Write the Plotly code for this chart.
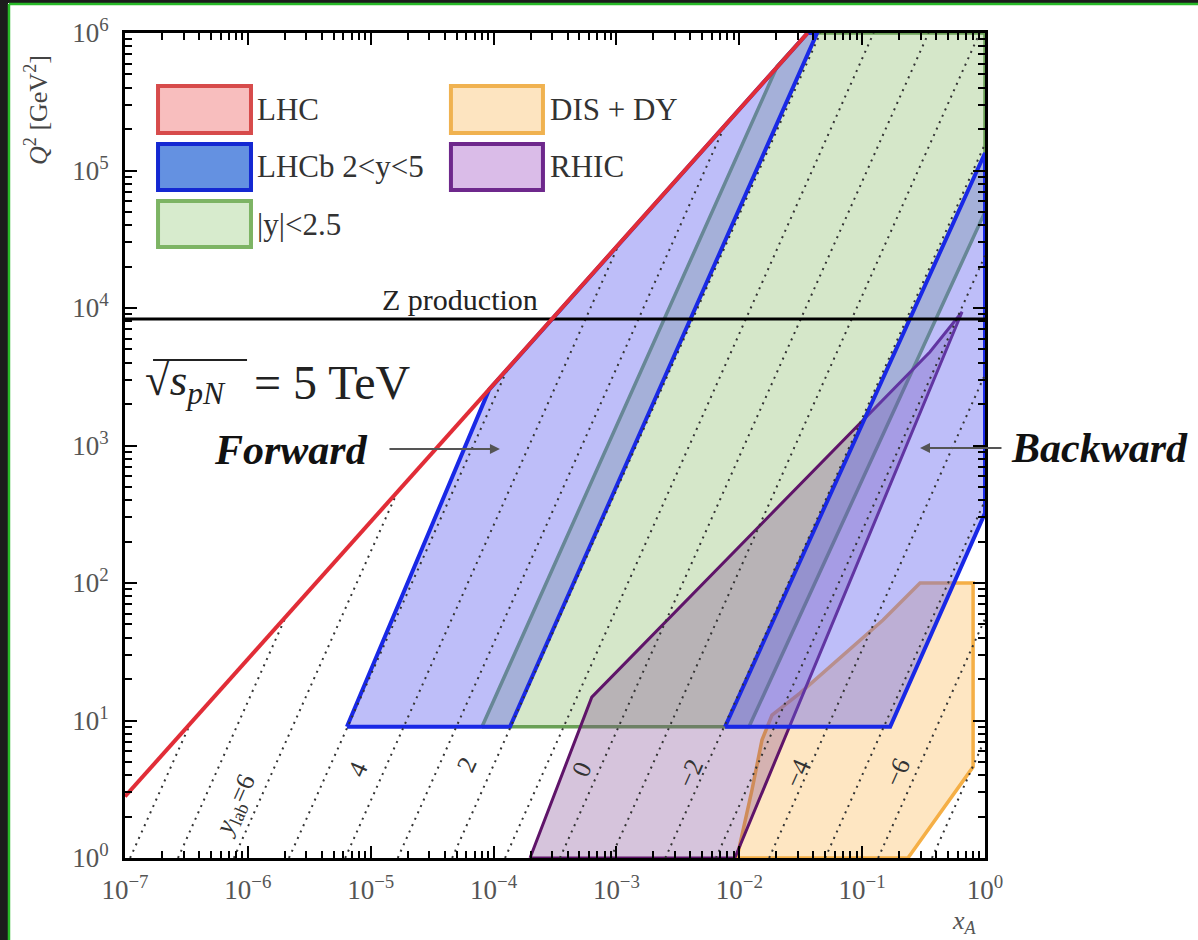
import numpy as np
import plotly.graph_objects as go

# ---------------- kinematic coverage data (x_A, Q^2 [GeV^2]) ----------------
# LHC kinematic limit at sqrt(s_pN) = 5 TeV
lhc_x = [1e-7, 0.036]
lhc_q2 = [2.8, 1e6]

# Z boson mass squared
z_x = [1e-7, 1.0]
z_q2 = [8315, 8315]

# central region |y| < 2.5
green_x = [8.05e-5, 0.0203, 0.036, 1.0, 1.0, 0.012]
green_q2 = [9, 5.7e5, 1e6, 1e6, 5.0e4, 9]

# LHCb forward 2 < y < 5
fwd_x = [6.4e-6, 9.2e-5, 0.036, 0.043, 1.36e-4]
fwd_q2 = [9, 2550, 1e6, 1e6, 9]

# LHCb backward
bwd_x = [7.66e-3, 1.0, 1.0, 0.169]
bwd_q2 = [9, 1.34e5, 323, 9]

# RHIC coverage
rhic_x = [1.98e-4, 6.3e-4, 0.356, 0.65, 9.2e-3]
rhic_q2 = [1, 14.8, 4790, 9350, 1]

# DIS + DY data coverage
dis_x = [9.57e-3, 0.01268, 0.0153, 0.01846, 0.0312, 0.148, 0.296, 0.8, 0.8, 0.236]
dis_q2 = [1, 3.12, 7.2, 10.96, 15.8, 53.8, 100, 100, 4.6, 1]

# constant lab-rapidity lines: start at Q^2 = 1, end at kinematic limit / frame
y_lab = [8, 7, 6, 5, 4, 3, 2, 1, 0, -1, -2, -3, -4, -5, -6, -7]
ylab_x0 = [1.1e-7, 2.7e-7, 7.7e-7, 2.16e-6, 6.2e-6, 1.66e-5, 4.6e-5, 1.24e-4,
           3.47e-4, 9.0e-4, 2.5e-3, 6.45e-3, 0.0175, 0.050, 0.135, 0.37]
ylab_x1 = [3.4e-7, 2.04e-6, 1.66e-5, 1.31e-4, 1.06e-3, 7.7e-3, 0.0457, 0.124,
           0.347, 0.904, 1, 1, 1, 1, 1, 1]
ylab_q2_1 = [9.5, 57, 466, 3660, 2.98e4, 2.16e5, 1e6, 1e6,
             1e6, 1e6, 1.56e5, 2.4e4, 3280, 398, 55, 7.3]

# rapidity labels
rap_text = ["<i>y</i><sub>lab</sub>=6", "4", "2", "0", "\u22122", "\u22124", "\u22126"]
rap_x = [8.0e-7, 7.9e-6, 6.1e-5, 5.25e-4, 3.97e-3, 0.0295, 0.192]
rap_q2 = [2.39, 4.37, 4.75, 4.37, 4.15, 4.15, 4.22]

# axis ticks
x_tickvals = [1e-7, 1e-6, 1e-5, 1e-4, 1e-3, 1e-2, 1e-1, 1]
x_ticktext = ["10<sup>\u22127</sup>", "10<sup>\u22126</sup>", "10<sup>\u22125</sup>",
              "10<sup>\u22124</sup>", "10<sup>\u22123</sup>", "10<sup>\u22122</sup>",
              "10<sup>\u22121</sup>", "10<sup>0</sup>"]
y_tickvals = [1, 10, 100, 1e3, 1e4, 1e5, 1e6]
y_ticktext = ["10<sup>0</sup>", "10<sup>1</sup>", "10<sup>2</sup>", "10<sup>3</sup>",
              "10<sup>4</sup>", "10<sup>5</sup>", "10<sup>6</sup>"]

# legend entries
legend_names = ["LHC", "LHCb 2<y<5", "|y|<2.5", "DIS + DY", "RHIC"]

SERIF = "Liberation Serif"
RED = "rgb(225,45,55)"
BLUE = "rgb(25,40,230)"
GREEN = "rgb(105,160,85)"
PURPLE = "rgb(95,20,105)"
ORANGE = "rgb(245,175,70)"

fig = go.Figure()


def region(xs, ys, fill, line, width):
    fig.add_trace(go.Scatter(
        x=xs + xs[:1], y=ys + ys[:1], mode="lines", fill="toself",
        fillcolor=fill, line=dict(color=line, width=width),
        hoverinfo="skip", showlegend=False))


region(green_x, green_q2, "rgba(150,195,120,0.40)", GREEN, 3.5)
region(dis_x, dis_q2, "rgba(253,200,120,0.45)", ORANGE, 3.5)
region(rhic_x, rhic_q2, "rgba(120,60,140,0.30)", PURPLE, 3)
region(fwd_x, fwd_q2, "rgba(100,100,240,0.42)", BLUE, 4)
region(bwd_x, bwd_q2, "rgba(100,100,240,0.42)", BLUE, 4)

# constant rapidity lines
for x0, x1, q1 in zip(ylab_x0, ylab_x1, ylab_q2_1):
    fig.add_trace(go.Scatter(
        x=[x0, x1], y=[1, q1], mode="lines",
        line=dict(color="#333333", width=2, dash="2px,5px"),
        hoverinfo="skip", showlegend=False))

# Z production threshold
fig.add_trace(go.Scatter(x=z_x, y=z_q2, mode="lines",
                         line=dict(color="black", width=3),
                         hoverinfo="skip", showlegend=False))
# LHC kinematic limit
fig.add_trace(go.Scatter(x=lhc_x, y=lhc_q2, mode="lines",
                         line=dict(color=RED, width=4),
                         hoverinfo="skip", showlegend=False))


def note(x, y, text, size, color="#222", xanchor="center", yanchor="middle", **kw):
    return dict(x=x, y=y, xref="paper", yref="paper", text=text, showarrow=False,
                xanchor=xanchor, yanchor=yanchor,
                font=dict(family=SERIF, size=size, color=color), **kw)


annotations = []
for t, xv, qv in zip(rap_text, rap_x, rap_q2):
    annotations.append(dict(
        x=np.log10(xv), y=np.log10(qv), xref="x", yref="y", text=t,
        showarrow=False, textangle=-66, xanchor="center", yanchor="middle",
        font=dict(family=SERIF, size=26, color="#333")))

# text labels
annotations += [
    note(0.3895, 0.6764, "Z production", 30),
    note(0.0209, 0.5758, "\u221a<i>s</i><sub><i>pN</i></sub>", 45, xanchor="left"),
    note(0.1477, 0.5758, "= 5 TeV", 48, xanchor="left"),
    note(0.193, 0.4945, "<b><i>Forward</i></b>", 42, color="#111"),
    note(1.1337, 0.497, "<b><i>Backward</i></b>", 42, color="#111"),
    note(0.9767, -0.0776, "<i>x</i><sub><i>A</i></sub>", 26, color="#555"),
    note(-0.1023, 0.9067, "<i>Q</i><sup>2</sup> [GeV<sup>2</sup>]", 26,
         color="#444", textangle=-90),
    dict(x=0.436, y=0.4958, xref="paper", yref="paper", text="",
         showarrow=True, ax=-112, ay=0, arrowhead=2, arrowsize=1,
         arrowwidth=2, arrowcolor="#555"),
    dict(x=0.9244, y=0.497, xref="paper", yref="paper", text="",
         showarrow=True, ax=83, ay=0, arrowhead=2, arrowsize=1,
         arrowwidth=2, arrowcolor="#555"),
]

# legend boxes drawn as shapes
shapes = []
legend_boxes = [
    (0.0384, 0.1465, 0.8788, 0.9358, "rgb(248,190,190)", "rgb(215,75,75)"),
    (0.0384, 0.1465, 0.8097, 0.8655, "rgb(100,145,225)", "rgb(20,40,210)"),
    (0.0384, 0.1465, 0.7406, 0.7964, "rgb(215,235,205)", "rgb(125,180,100)"),
    (0.3790, 0.4860, 0.8788, 0.9358, "rgb(253,228,192)", "rgb(240,178,80)"),
    (0.3790, 0.4860, 0.8097, 0.8655, "rgb(218,188,232)", "rgb(110,40,140)"),
]
for x0, x1, y0, y1, fc, lc in legend_boxes:
    shapes.append(dict(type="rect", xref="paper", yref="paper", x0=x0, x1=x1,
                       y0=y0, y1=y1, fillcolor=fc, line=dict(color=lc, width=4)))
legend_pos = [(0.1512, 0.9067), (0.1512, 0.8376), (0.1512, 0.7673),
              (0.4919, 0.9067), (0.4919, 0.8376)]
for name, (lx, ly) in zip(legend_names, legend_pos):
    annotations.append(note(lx, ly, name.replace("<", "&lt;"), 31,
                            color="#333", xanchor="left"))

# overline of the square root
shapes.append(dict(type="line", xref="paper", yref="paper", x0=0.0326, x1=0.1419,
                   y0=0.6036, y1=0.6036, line=dict(color="#222", width=2)))

# dark frame with green edge around the page
shapes += [
    dict(type="rect", xref="paper", yref="paper", x0=-0.1460, x1=-0.1360,
         y0=-0.12, y1=1.045, fillcolor="#1c1c1c", line=dict(width=0), layer="above"),
    dict(type="rect", xref="paper", yref="paper", x0=-0.1460, x1=1.25,
         y0=1.0364, y1=1.045, fillcolor="#1c1c1c", line=dict(width=0), layer="above"),
    dict(type="line", xref="paper", yref="paper", x0=-0.1349, x1=-0.1349,
         y0=-0.12, y1=1.0352, line=dict(color="rgb(40,185,40)", width=2.5), layer="above"),
    dict(type="line", xref="paper", yref="paper", x0=-0.1349, x1=1.25,
         y0=1.0352, y1=1.0352, line=dict(color="rgb(40,185,40)", width=2.5), layer="above"),
]

minor_x = [m * 10.0 ** e for e in range(-7, 0) for m in range(2, 10)]
minor_y = [m * 10.0 ** e for e in range(0, 6) for m in range(2, 10)]

axis_common = dict(
    type="log", showgrid=False, zeroline=False, showline=True,
    linecolor="black", linewidth=3, mirror="allticks",
    ticks="inside", ticklen=12, tickwidth=2, tickcolor="black",
    tickmode="array",
    tickfont=dict(family=SERIF, size=27, color="#555"),
)

fig.update_layout(
    width=1198, height=940,
    margin=dict(l=125, r=213, t=33, b=82),
    paper_bgcolor="white", plot_bgcolor="white",
    font=dict(family=SERIF),
    xaxis=dict(axis_common, range=[-7, 0], tickvals=x_tickvals,
               ticktext=x_ticktext, ticklabelstandoff=6,
               minor=dict(ticks="inside", ticklen=7, tickwidth=1.5,
                          tickcolor="black", tickmode="array", tickvals=minor_x)),
    yaxis=dict(axis_common, range=[0, 6], tickvals=y_tickvals,
               ticktext=y_ticktext, ticklabelstandoff=8,
               minor=dict(ticks="inside", ticklen=7, tickwidth=1.5,
                          tickcolor="black", tickmode="array", tickvals=minor_y)),
    annotations=annotations,
    shapes=shapes,
    showlegend=False,
)

fig.write_html("out.html")
